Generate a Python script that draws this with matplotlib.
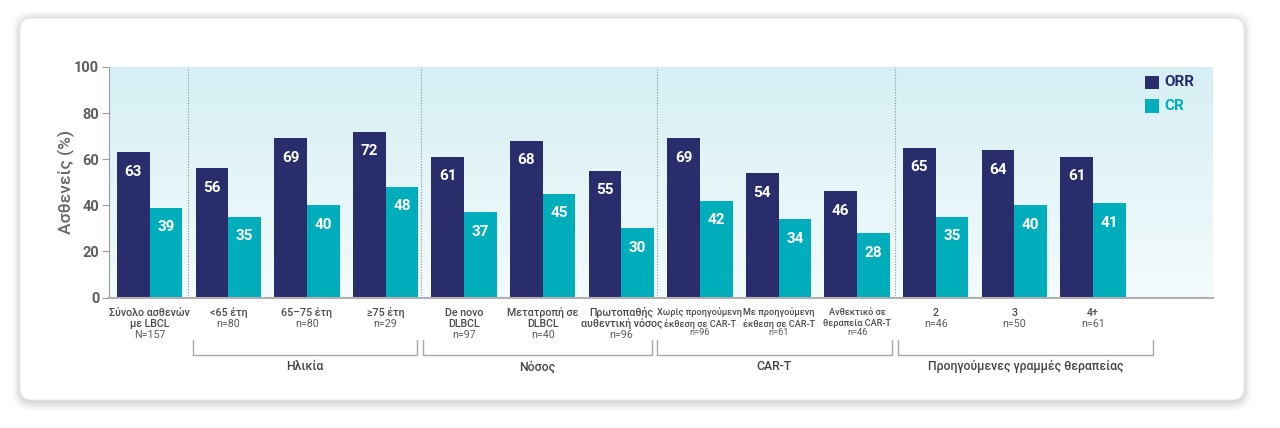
import numpy as np
import matplotlib
matplotlib.use("Agg")
import matplotlib.pyplot as plt
from matplotlib.patches import FancyBboxPatch, Rectangle
from matplotlib.colors import LinearSegmentedColormap
from matplotlib.transforms import IdentityTransform, blended_transform_factory

plt.rcParams['font.family'] = ['Roboto', 'DejaVu Sans']

# ---- data ----
categories = ["Σύνολο ασθενών\nμε LBCL", "<65 έτη", "65–75 έτη", "≥75 έτη",
              "De novo\nDLBCL", "Μετατροπή σε\nDLBCL", "Πρωτοπαθής\nαυθεντική νόσος",
              "Χωρίς προηγούμενη\nέκθεση σε CAR-T", "Με προηγούμενη\nέκθεση σε CAR-T",
              "Ανθεκτικό σε\nθεραπεία CAR-T", "2", "3", "4+"]
n_labels = ["N=157", "n=80", "n=80", "n=29", "n=97", "n=40", "n=96",
            "n=96", "n=61", "n=46", "n=46", "n=50", "n=61"]
orr = [63, 56, 69, 72, 61, 68, 55, 69, 54, 46, 65, 64, 61]
cr = [39, 35, 40, 48, 37, 45, 30, 42, 34, 28, 35, 40, 41]
groups = ["Ηλικία", "Νόσος", "CAR-T", "Προηγούμενες γραμμές θεραπείας"]
group_members = [(1, 3), (4, 6), (7, 9), (10, 12)]
series_names = ["ORR", "CR"]

NAVY = "#2A2D6B"
TEAL = "#00ADBA"

W, H = 1280, 428
fig = plt.figure(figsize=(W / 100, H / 100), dpi=100)
fig.patch.set_facecolor("white")

# card with shadow (pixel coordinates)
cx0, cy0, cx1, cy1 = 20, 428 - 400, 1244, 428 - 18
for i, a in enumerate([0.025, 0.025, 0.03, 0.035, 0.04]):
    g = 9 - i * 2
    fig.patches.append(FancyBboxPatch((cx0 - g + 1, cy0 - g - 2), (cx1 - cx0) + 2 * g - 2, (cy1 - cy0) + 2 * g,
                                      boxstyle="round,pad=0,rounding_size=%d" % (12 + g),
                                      transform=IdentityTransform(), facecolor="black",
                                      edgecolor="none", alpha=a, zorder=-10))
fig.patches.append(FancyBboxPatch((cx0, cy0), cx1 - cx0, cy1 - cy0,
                                  boxstyle="round,pad=0,rounding_size=12",
                                  transform=IdentityTransform(), facecolor="white",
                                  edgecolor="#E6E6E6", linewidth=0.6, zorder=-9))

ax = fig.add_axes([109 / W, 1 - 297.5 / H, (1212.7 - 109) / W, (297.5 - 67) / H])
ax.set_facecolor("none")

x = np.arange(len(categories))
bw = 0.417
xlim = (-0.518, 13.524)
ax.set_xlim(*xlim)
ax.set_ylim(0, 100)

cmap = LinearSegmentedColormap.from_list("bg", ["#F4FBFC", "#D5EFF4"])
grad = np.linspace(0, 1, 256).reshape(-1, 1)
ax.imshow(grad, extent=[xlim[0], xlim[1], 0, 100], origin="lower", aspect="auto",
          cmap=cmap, zorder=0)

ax.bar(x - bw / 2, orr, bw, color=NAVY, zorder=2, label=series_names[0])
ax.bar(x + bw / 2, cr, bw, color=TEAL, zorder=2, label=series_names[1])

for xi, v in zip(x - bw / 2, orr):
    ax.text(xi, v - 8.5, str(v), ha="center", va="center", color="white",
            fontsize=11, fontweight="bold", zorder=3)
for xi, v in zip(x + bw / 2, cr):
    ax.text(xi, v - 8.5, str(v), ha="center", va="center", color="white",
            fontsize=11, fontweight="bold", zorder=3)

# separators
for s in [0.49, 3.45, 6.45, 9.48]:
    ax.axvline(s, color="#8A8F96", linestyle=(0, (1, 1.5)), linewidth=0.8, zorder=1)

# axes styling
for sp in ["top", "right"]:
    ax.spines[sp].set_visible(False)
ax.spines["left"].set_color("#9A9A9A")
ax.spines["bottom"].set_color("#B0B0B0")
ax.spines["bottom"].set_linewidth(1.5)
ax.set_xticks([])
ax.set_yticks([0, 20, 40, 60, 80, 100])
ax.tick_params(axis="y", colors="#9A9A9A", length=5, width=0.8, labelsize=10.5,
               labelcolor="#5E5E5E", pad=2)
for t in ax.get_yticklabels():
    t.set_fontweight("bold")
ax.set_ylabel("Ασθενείς (%)", fontsize=12.5, color="#666666", fontweight="medium")
ax.yaxis.set_label_coords(-0.031, 0.5)

# category labels
trans = blended_transform_factory(ax.transData, fig.transFigure)
line_px = [312.5, 323.8, 334.5]
for i, (name, nl) in enumerate(zip(categories, n_labels)):
    lines = name.split("\n")
    small = 7 <= i <= 9
    fs = 6.6 if small else 7.7
    for j, ln in enumerate(lines):
        ax.text(x[i], 1 - line_px[j] / H, ln, transform=trans, ha="center", va="center",
                fontsize=fs, color="#4A4A4A", fontweight="medium", clip_on=False)
    ny = 332.7 if small else line_px[len(lines)]
    ax.text(x[i], 1 - ny / H, nl, transform=trans, ha="center", va="center",
            fontsize=fs, color="#5A5A5A", clip_on=False)

# brackets
pads = [(0.45, 0.40), (0.52, 0.39), (0.55, 0.44), (0.48, 0.77)]
y_top, y_bot, y_txt = 1 - 340 / H, 1 - 355 / H, 1 - 366.5 / H
for gname, (a, b), (pl, pr) in zip(groups, group_members, pads):
    xa, xb = a - pl, b + pr
    ax.plot([xa, xa, xb, xb], [y_top, y_bot, y_bot, y_top], transform=trans,
            color="#A8A8A8", linewidth=1.0, clip_on=False)
    ax.text((xa + xb) / 2, y_txt, gname, transform=trans, ha="center", va="center",
            fontsize=8.8, color="#444444", fontweight="medium", clip_on=False)

# legend (manual)
for (lab, col, ytop) in [(series_names[0], NAVY, 75.7), (series_names[1], TEAL, 99.3)]:
    fig.patches.append(Rectangle((1145 / W, 1 - (ytop + 13.6) / H), 13.6 / W, 13.6 / H,
                                 transform=fig.transFigure, facecolor=col, edgecolor="none"))
    fig.text(1164 / W, 1 - (ytop + 6.8) / H, lab, ha="left", va="center", fontsize=11,
             fontweight="bold", color=col)

fig.savefig("out.png", dpi=100)
